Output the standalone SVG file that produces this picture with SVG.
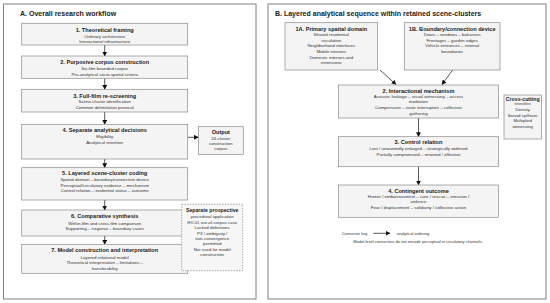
<svg xmlns="http://www.w3.org/2000/svg" width="550" height="303" viewBox="0 0 550 303">
<style>
text{font-family:"Liberation Sans",Arial,sans-serif;fill:#1a1a1a;text-anchor:middle}
.pt{font-size:7px;font-weight:bold;text-anchor:start}
.t{font-size:5.6px;font-weight:bold}
.tn{font-size:5.2px;font-weight:bold}
.s{font-size:4.4px;fill:#333}
.xs{font-size:3.4px;fill:#333}
.k{font-size:4px;fill:#333}
.frame{fill:#fff;stroke:#808080;stroke-width:1}
.box{fill:#f4f4f4;stroke:#8a8a8a;stroke-width:0.7}
.dash{fill:#f7f7f7;stroke:#8a8a8a;stroke-width:0.7;stroke-dasharray:1.5 1.2}
.c{stroke:#111;stroke-width:0.7;fill:none;marker-end:url(#ah)}
</style>
<defs>
<marker id="ah" viewBox="0 0 10 10" refX="9" refY="5" markerWidth="7" markerHeight="7" markerUnits="strokeWidth" orient="auto">
<path d="M0,0 L10,5 L0,10 z" fill="#111"/>
</marker>
</defs>
<rect width="550" height="303" fill="#fff"/>
<g id="panelA">
<rect class="frame" x="3.5" y="4" width="252.5" height="295"/>
<text class="pt" x="20" y="15.5">A. Overall research workflow</text>
</g>
<g id="panelB">
<rect class="frame" x="268" y="4" width="278" height="295"/>
<text class="pt" x="275" y="15.5">B. Layered analytical sequence within retained scene-clusters</text>
</g>
<g id="connectors">
<line class="c" x1="104.7" y1="45" x2="104.7" y2="56"/>
<line class="c" x1="104.7" y1="78.3" x2="104.7" y2="89.3"/>
<line class="c" x1="104.7" y1="112" x2="104.7" y2="124.3"/>
<line class="c" x1="104.7" y1="159" x2="104.7" y2="167.7"/>
<line class="c" x1="104.7" y1="200" x2="104.7" y2="210"/>
<line class="c" x1="104.7" y1="236" x2="104.7" y2="244.3"/>
<line class="c" x1="187.7" y1="137.3" x2="198.3" y2="137.3"/>
<line class="c" x1="380" y1="70" x2="396" y2="84.5"/>
<line class="c" x1="452.7" y1="70" x2="442" y2="84.5"/>
<line class="c" x1="418.5" y1="118" x2="418.5" y2="136.7"/>
<line class="c" x1="418.5" y1="166.7" x2="418.5" y2="185"/>
</g>
<g id="a1">
<rect class="box" x="21.7" y="23.3" width="166" height="21.7"/>
<text class="t" x="104.7" y="32">1. Theoretical framing</text>
<text class="s" x="104.7" y="37.6">Ordinary architecture</text>
<text class="s" x="104.7" y="43.1">Interactional infrastructure</text>
</g>
<g id="a2">
<rect class="box" x="21.7" y="56" width="166" height="22.3"/>
<text class="t" x="104.7" y="63.8">2. Purposive corpus construction</text>
<text class="s" x="104.7" y="69.8">Six-film bounded corpus</text>
<text class="s" x="104.7" y="75.5">Pre-analytical socio-spatial criteria</text>
</g>
<g id="a3">
<rect class="box" x="21.7" y="89.3" width="166" height="22.7"/>
<text class="t" x="104.7" y="97.7">3. Full-film re-screening</text>
<text class="s" x="104.7" y="103">Scene-cluster identification</text>
<text class="s" x="104.7" y="108.8">Common delimitation protocol</text>
</g>
<g id="a4">
<rect class="box" x="21.7" y="124.3" width="166" height="34.7"/>
<text class="t" x="104.7" y="132">4. Separate analytical decisions</text>
<text class="s" x="104.7" y="138.2">Eligibility</text>
<text class="s" x="104.7" y="143.8">Analytical retention</text>
</g>
<g id="output">
<rect class="box" x="198.3" y="126.7" width="45" height="27.6"/>
<text class="t" x="220.8" y="133.7">Output</text>
<text class="s" x="220.8" y="139.8">24-cluster</text>
<text class="s" x="220.8" y="144.8">construction</text>
<text class="s" x="220.8" y="149.6">corpus</text>
</g>
<g id="a5">
<rect class="box" x="21.7" y="167.7" width="166" height="32.3"/>
<text class="t" x="104.7" y="175.3">5. Layered scene-cluster coding</text>
<text class="s" x="104.7" y="181.2">Spatial domain – boundary/connection device</text>
<text class="s" x="104.7" y="186.8">Perceptual/circulatory evidence – mechanism</text>
<text class="s" x="104.7" y="192.3">Control relation – evidential status – outcome</text>
</g>
<g id="a6">
<rect class="box" x="21.7" y="210" width="166" height="26"/>
<text class="t" x="104.7" y="217.7">6. Comparative synthesis</text>
<text class="s" x="104.7" y="224.8">Within-film and cross-film comparison</text>
<text class="s" x="104.7" y="230.2">Supporting – negative – boundary cases</text>
</g>
<g id="a7">
<rect class="box" x="21.7" y="244.3" width="166" height="29"/>
<text class="t" x="104.7" y="252">7. Model construction and interpretation</text>
<text class="s" x="104.7" y="258.8">Layered relational model</text>
<text class="s" x="104.7" y="264.2">Theoretical interpretation – limitations –</text>
<text class="s" x="104.7" y="269.5">transferability</text>
</g>
<g id="prospective">
<rect class="dash" x="181.7" y="204.3" width="61" height="66.4"/>
<text class="tn" x="212.2" y="212.2">Separate prospective</text>
<text class="s" x="212.2" y="218.4">procedural application</text>
<text class="s" x="212.2" y="223.8">HV-01 out-of-corpus case</text>
<text class="s" x="212.2" y="229.2">Locked definitions</text>
<text class="s" x="212.2" y="234.6">P3 / ambiguity /</text>
<text class="s" x="212.2" y="240">non-convergence</text>
<text class="s" x="212.2" y="245.4">permitted</text>
<text class="s" x="212.2" y="250.8">Not used for model</text>
<text class="s" x="212.2" y="256.2">construction</text>
</g>
<g id="b1a">
<rect class="box" x="285" y="22.7" width="92.7" height="47.3"/>
<text class="t" x="331.3" y="31">1A. Primary spatial domain</text>
<text class="s" x="331.3" y="35.8">Shared residential</text>
<text class="s" x="331.3" y="41.5">circulation</text>
<text class="s" x="331.3" y="47.2">Neighborhood interfaces</text>
<text class="s" x="331.3" y="52.9">Mobile interiors</text>
<text class="s" x="331.3" y="58.6">Domestic interiors and</text>
<text class="s" x="331.3" y="64.3">extensions</text>
</g>
<g id="b1b">
<rect class="box" x="404.3" y="22.7" width="95.7" height="47.3"/>
<text class="t" x="452.2" y="31">1B. Boundary/connection device</text>
<text class="s" x="452.2" y="35.8">Doors – windows – balconies</text>
<text class="s" x="452.2" y="41.5">Frontages – garden edges</text>
<text class="s" x="452.2" y="47.2">Vehicle entrances – internal</text>
<text class="s" x="452.2" y="52.9">boundaries</text>
</g>
<g id="b2">
<rect class="box" x="338.5" y="85" width="160" height="33"/>
<text class="t" x="418.5" y="93">2. Interactional mechanism</text>
<text class="s" x="418.5" y="97.8">Acoustic leakage – visual witnessing – access</text>
<text class="s" x="418.5" y="102.8">mediation</text>
<text class="s" x="418.5" y="109.4">Compression – route interruption – collective</text>
<text class="s" x="418.5" y="114.6">gathering</text>
</g>
<g id="crosscutting">
<rect class="box" x="504" y="95" width="37.5" height="44"/>
<text class="tn" x="522.7" y="101.3">Cross-cutting</text>
<text class="xs" x="522.7" y="105">intensifiers</text>
<text class="s" x="522.7" y="110.8">Density</text>
<text class="s" x="522.7" y="116.5">Sound spillover</text>
<text class="s" x="522.7" y="122.2">Multiplied</text>
<text class="s" x="522.7" y="128">witnessing</text>
</g>
<g id="b3">
<rect class="box" x="338.5" y="136.7" width="160" height="30"/>
<text class="t" x="418.5" y="143.7">3. Control relation</text>
<text class="s" x="418.5" y="149.8">Lost / unwantedly enlarged – strategically widened</text>
<text class="s" x="418.5" y="155.5">Partially compromised – retained / effective</text>
</g>
<g id="b4">
<rect class="box" x="338.5" y="185" width="160" height="32.3"/>
<text class="t" x="418.5" y="192.7">4. Contingent outcome</text>
<text class="s" x="418.5" y="197.8">Humor / embarrassment – care / rescue – intrusion /</text>
<text class="s" x="418.5" y="203.3">violence</text>
<text class="s" x="418.5" y="208.9">Fear / displacement – solidarity / collective action</text>
</g>
<g id="key">
<text class="k" x="341.7" y="234.7" style="text-anchor:start">Connector key</text>
<line class="c" x1="373.3" y1="233.3" x2="390" y2="233.3"/>
<text class="k" x="396.7" y="234.7" style="text-anchor:start">analytical ordering</text>
<text class="k" x="418" y="243">Model-level connectors do not encode perceptual or circulatory channels.</text>
</g>
</svg>
